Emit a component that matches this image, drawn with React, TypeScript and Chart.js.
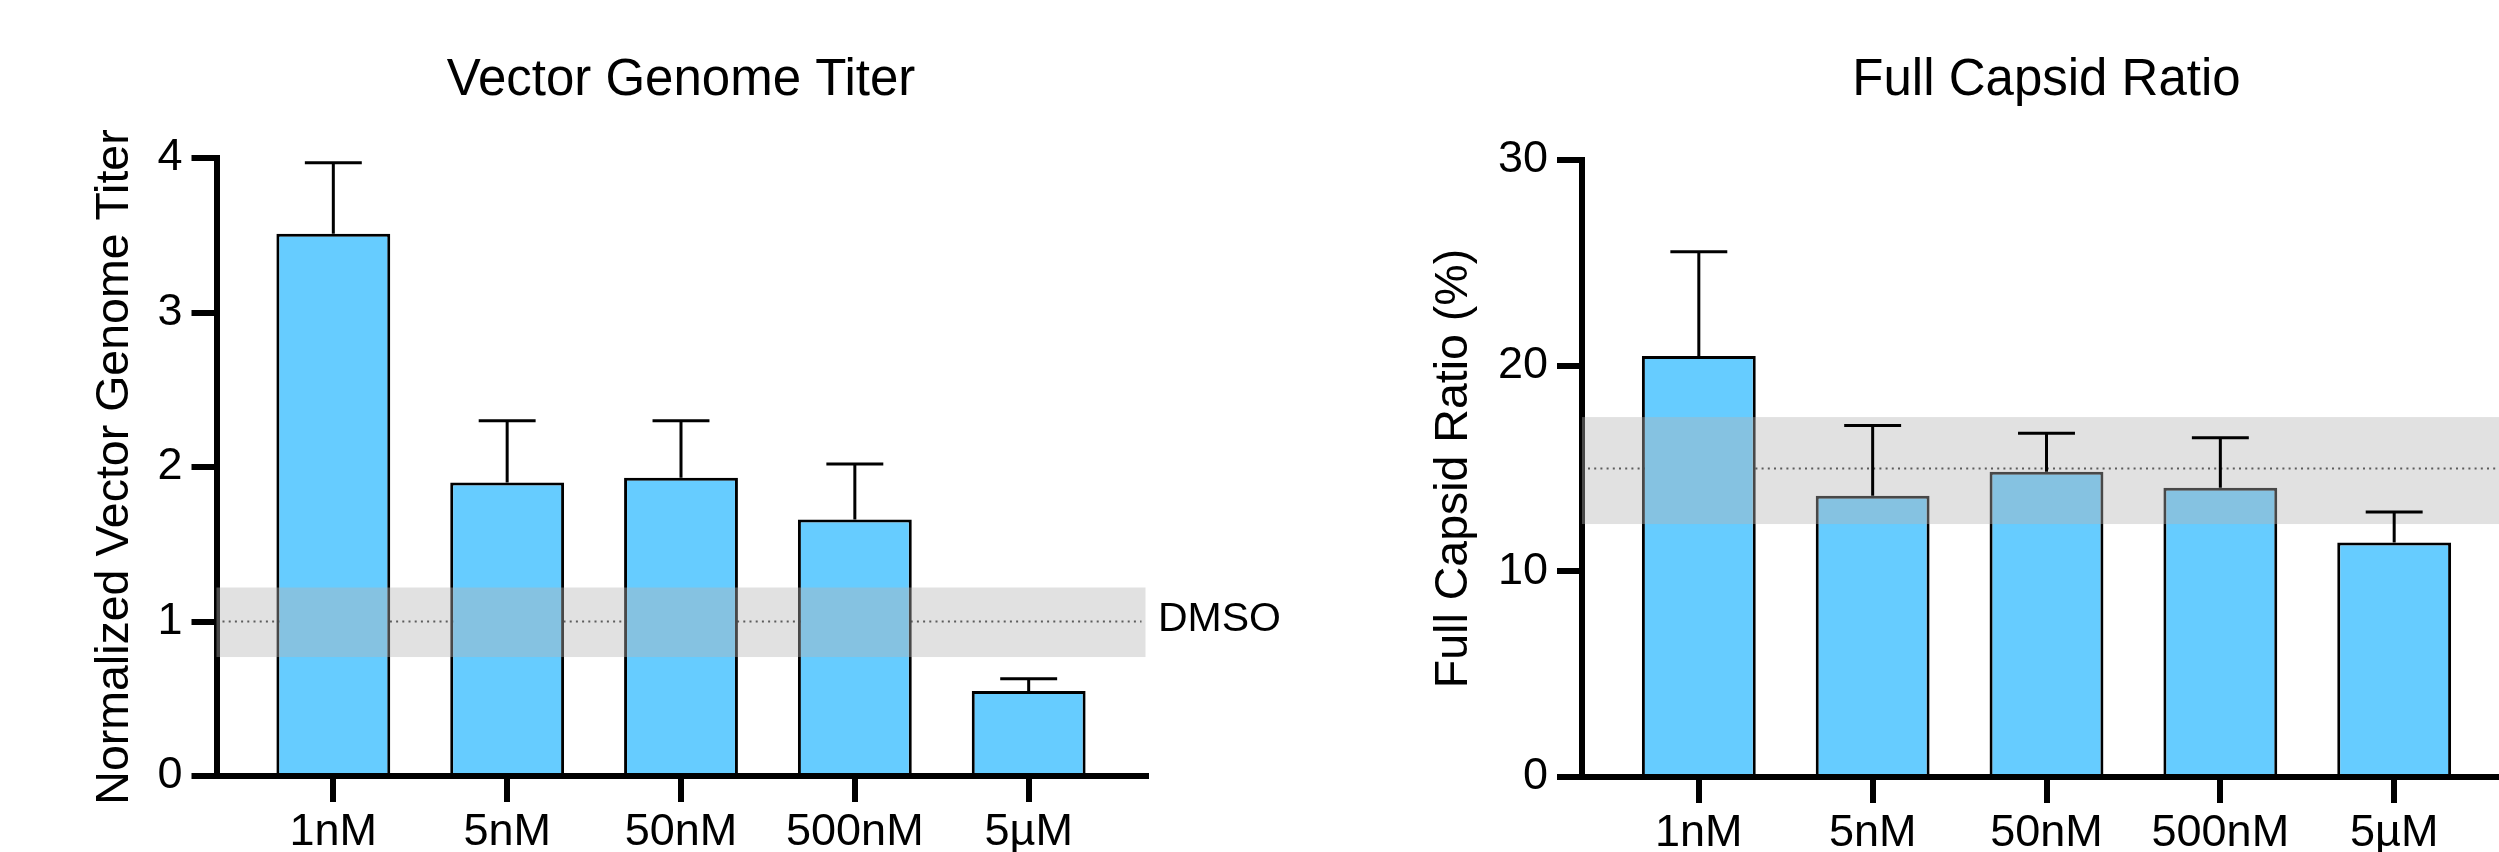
import React, { useEffect, useRef } from 'react';
import { Chart, registerables } from 'chart.js';

Chart.register(...registerables);

const FONT = 'Liberation Sans, Arial, Helvetica, sans-serif';

// ---- data ----
const categories = ['1nM', '5nM', '50nM', '500nM', '5µM'];

const titerValues = [3.51, 1.9, 1.93, 1.66, 0.55];
const titerErrors = [0.46, 0.4, 0.37, 0.36, 0.08];
const titerTicks = [0, 1, 2, 3, 4];
const titerRef = 1.0;
const titerBand = [0.77, 1.22];

const capsidValues = [20.47, 13.68, 14.84, 14.07, 11.4];
const capsidErrors = [5.07, 3.41, 1.88, 2.43, 1.48];
const capsidTicks = [0, 10, 20, 30];
const capsidRef = 15;
const capsidBand = [12.3, 17.5];

type PanelCfg = {
  title: string;
  yTitle: string;
  values: number[];
  errors: number[];
  yTicks: number[];
  ref: number;
  band: number[];
  refLabel?: string;
  // layout (sizes only)
  canvasWidth: number;
  canvasHeight: number;
  yAxisWidth: number;
  xAxisHeight: number;
  padRight: number;
  titlePadTop: number;
  titlePadBottom: number;
  yTitlePadTop: number;
};

function makeRefPlugin(cfg: PanelCfg) {
  return {
    id: 'refBandAndErrors',
    beforeDatasetsDraw(chart: any) {
      const { ctx, chartArea, scales } = chart;
      const y = scales.y;
      const py = y.getPixelForValue(cfg.ref);
      ctx.save();
      ctx.strokeStyle = '#222';
      ctx.lineWidth = 2;
      ctx.setLineDash([2, 4.2]);
      ctx.beginPath();
      ctx.moveTo(chartArea.left + 6, py);
      ctx.lineTo(chartArea.right - 4, py);
      ctx.stroke();
      ctx.restore();
    },
    afterDatasetsDraw(chart: any) {
      const { ctx, chartArea, scales } = chart;
      const y = scales.y;
      const yTop = y.getPixelForValue(cfg.band[1]);
      const yBot = y.getPixelForValue(cfg.band[0]);
      ctx.save();
      ctx.fillStyle = 'rgba(180,180,180,0.4)';
      ctx.fillRect(chartArea.left, yTop, chartArea.right - chartArea.left, yBot - yTop);

      // error bars (upper only)
      const meta = chart.getDatasetMeta(0);
      ctx.strokeStyle = '#000';
      ctx.lineWidth = 3;
      ctx.setLineDash([]);
      meta.data.forEach((bar: any, i: number) => {
        const top = y.getPixelForValue(cfg.values[i]);
        const et = y.getPixelForValue(cfg.values[i] + cfg.errors[i]);
        const half = bar.width / 4;
        ctx.beginPath();
        ctx.moveTo(bar.x, top);
        ctx.lineTo(bar.x, et);
        ctx.moveTo(bar.x - half, et);
        ctx.lineTo(bar.x + half, et);
        ctx.stroke();
      });

      if (cfg.refLabel) {
        ctx.fillStyle = '#000';
        ctx.font = `41px ${FONT}`;
        ctx.textAlign = 'left';
        ctx.textBaseline = 'middle';
        ctx.fillText(cfg.refLabel, chartArea.right + 12.5, y.getPixelForValue(cfg.ref) - 2);
      }
      ctx.restore();
    },
  };
}

function buildConfig(cfg: PanelCfg): any {
  const n = categories.length;
  const gridOpts = (tl: number) => ({
    display: true,
    offset: false,
    drawOnChartArea: false,
    drawTicks: true,
    tickLength: tl,
    tickWidth: 6,
    tickColor: '#000',
    lineWidth: 6,
    color: '#000',
  });
  return {
    type: 'bar',
    data: {
      datasets: [
        {
          data: cfg.values.map((v, i) => ({ x: i, y: v })),
          backgroundColor: '#66CCFF',
          borderColor: '#000',
          borderWidth: 3,
          categoryPercentage: 1.0,
          barPercentage: 0.655,
        },
      ],
    },
    options: {
      responsive: false,
      maintainAspectRatio: false,
      animation: false,
      devicePixelRatio: 1,
      layout: { padding: { left: 0, top: 0, bottom: 0, right: cfg.padRight } },
      plugins: {
        legend: { display: false },
        tooltip: { enabled: false },
        title: {
          display: true,
          text: cfg.title,
          color: '#000',
          fullSize: false,
          font: { size: 51, family: FONT, weight: 'normal' },
          padding: { top: cfg.titlePadTop, bottom: cfg.titlePadBottom },
        },
      },
      scales: {
        x: {
          type: 'linear',
          offset: false,
          min: -0.672,
          max: n - 1 + 0.672,
          z: 1,
          afterBuildTicks: (s: any) => {
            s.ticks = categories.map((_, i) => ({ value: i }));
          },
          afterFit: (s: any) => {
            s.height = cfg.xAxisHeight;
          },
          ticks: {
            callback: (v: any) => categories[v as number] ?? '',
            font: { size: 45, family: FONT },
            color: '#000',
            padding: 4,
            maxRotation: 0,
            minRotation: 0,
            autoSkip: false,
          },
          grid: gridOpts(26),
          border: { display: true, width: 6, color: '#000' },
        },
        y: {
          type: 'linear',
          min: cfg.yTicks[0],
          max: cfg.yTicks[cfg.yTicks.length - 1],
          z: 1,
          afterBuildTicks: (s: any) => {
            s.ticks = cfg.yTicks.map((v) => ({ value: v }));
          },
          afterFit: (s: any) => {
            s.width = cfg.yAxisWidth;
          },
          ticks: {
            font: { size: 45, family: FONT },
            color: '#000',
            padding: 9,
          },
          grid: gridOpts(25),
          border: { display: true, width: 6, color: '#000' },
          title: {
            display: true,
            text: cfg.yTitle,
            color: '#000',
            font: { size: 46.5, family: FONT },
            padding: { top: cfg.yTitlePadTop, bottom: 0 },
          },
        },
      },
    },
    plugins: [makeRefPlugin(cfg)],
  };
}

function Panel({ cfg, left }: { cfg: PanelCfg; left: number }) {
  const ref = useRef<HTMLCanvasElement>(null);
  useEffect(() => {
    if (!ref.current) return;
    const chart = new Chart(ref.current, buildConfig(cfg));
    return () => chart.destroy();
  }, []);
  return (
    <canvas
      ref={ref}
      width={cfg.canvasWidth}
      height={cfg.canvasHeight}
      style={{ position: 'absolute', left, top: 0, width: cfg.canvasWidth, height: cfg.canvasHeight }}
    />
  );
}

const leftCfg: PanelCfg = {
  title: 'Vector Genome Titer',
  yTitle: 'Normalized Vector Genome Titer',
  values: titerValues,
  errors: titerErrors,
  yTicks: titerTicks,
  ref: titerRef,
  band: titerBand,
  refLabel: 'DMSO',
  canvasWidth: 1350,
  canvasHeight: 900,
  yAxisWidth: 216.5,
  xAxisHeight: 124,
  padRight: 204.5,
  titlePadTop: 50,
  titlePadBottom: 46.8,
  yTitlePadTop: 87,
};

const rightCfg: PanelCfg = {
  title: 'Full Capsid Ratio',
  yTitle: 'Full Capsid Ratio (%)',
  values: capsidValues,
  errors: capsidErrors,
  yTicks: capsidTicks,
  ref: capsidRef,
  band: capsidBand,
  canvasWidth: 1398,
  canvasHeight: 900,
  yAxisWidth: 232,
  xAxisHeight: 123,
  padRight: 237,
  titlePadTop: 50,
  titlePadBottom: 48.8,
  yTitlePadTop: 76,
};

export default function App() {
  return (
    <div
      style={{
        position: 'absolute',
        left: 0,
        top: 0,
        width: 2499,
        height: 852,
        overflow: 'hidden',
        background: '#fff',
      }}
    >
      <Panel cfg={leftCfg} left={0} />
      <Panel cfg={rightCfg} left={1350} />
    </div>
  );
}
